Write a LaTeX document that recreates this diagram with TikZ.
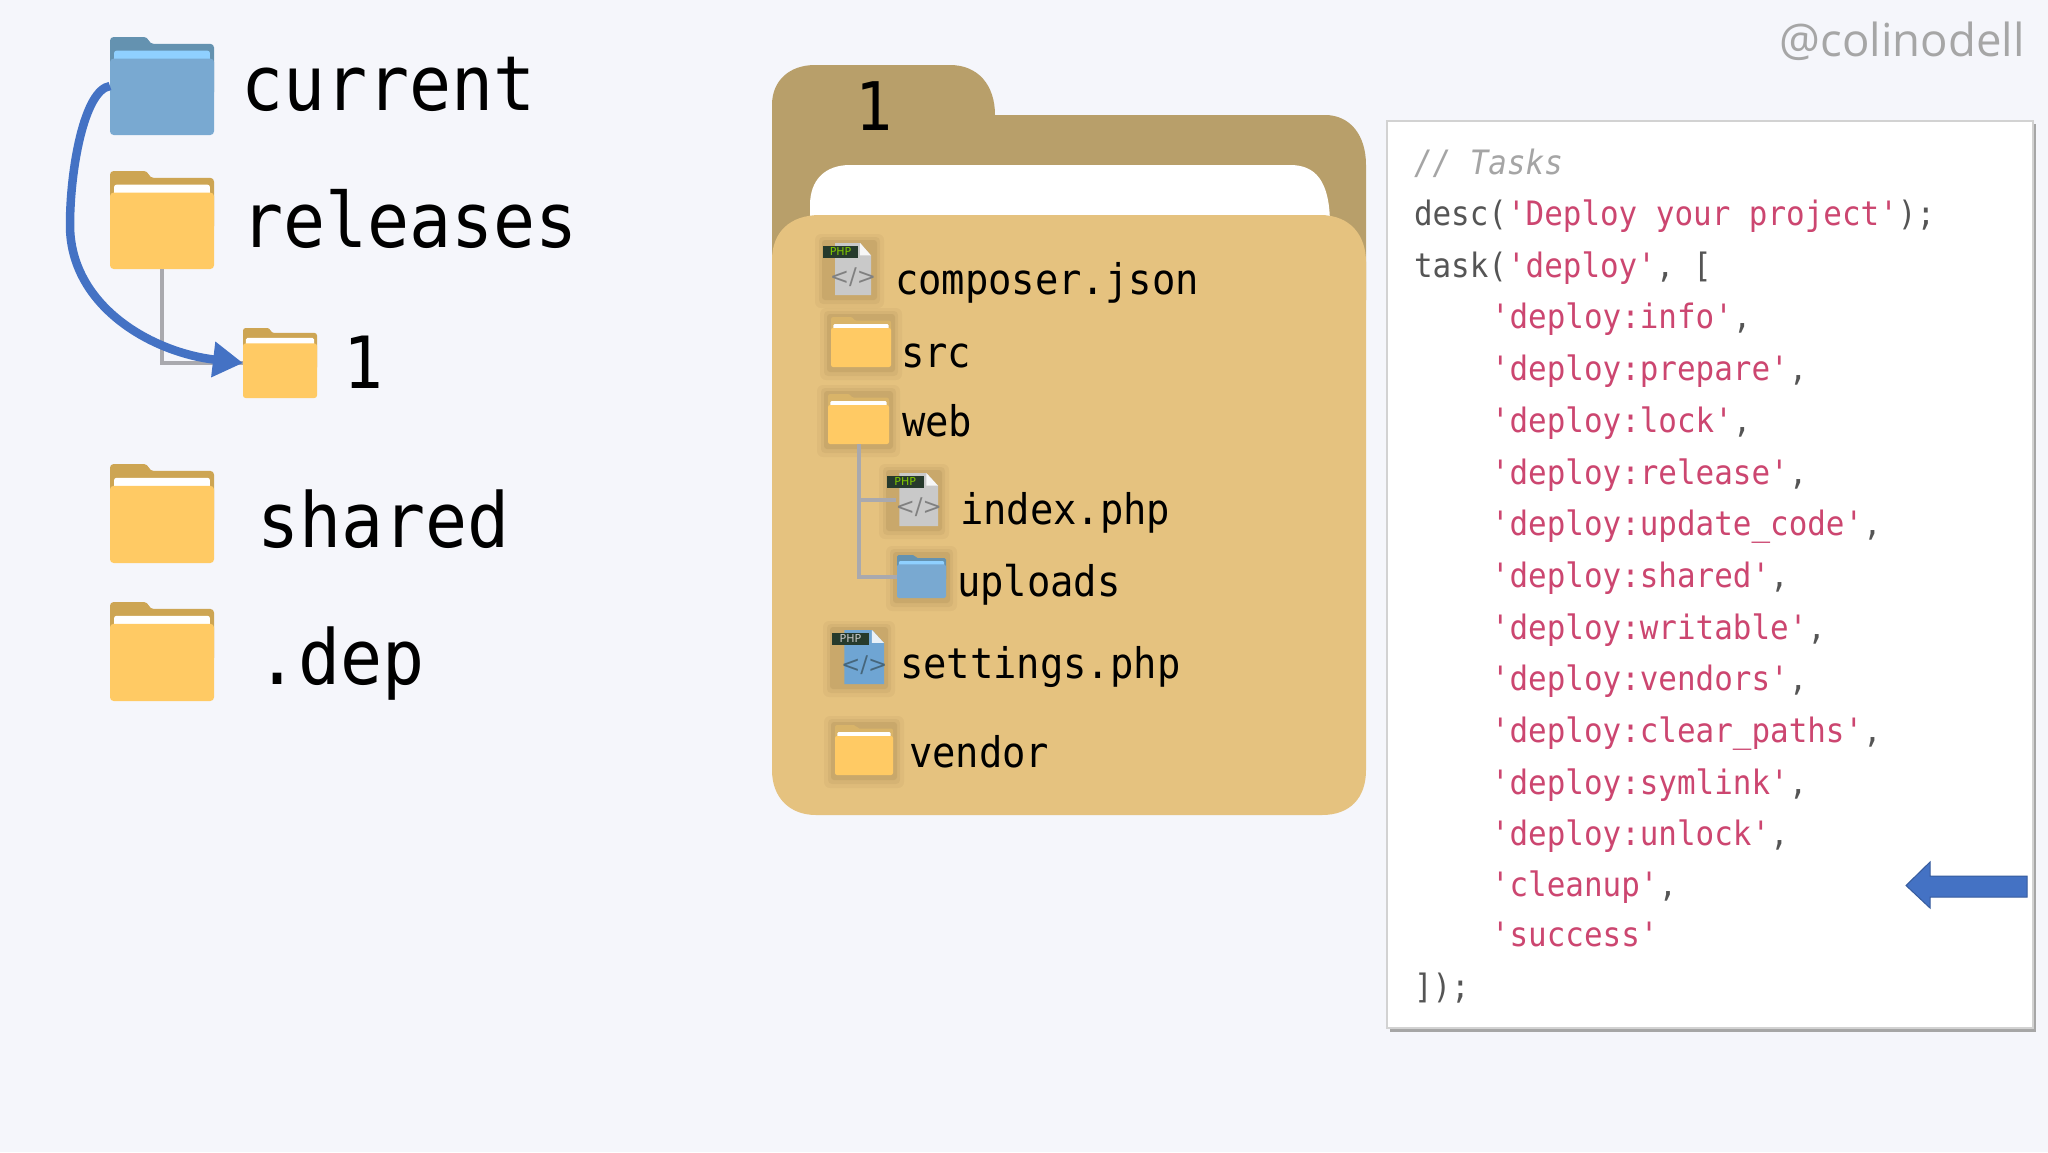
\documentclass[tikz,border=0pt]{standalone}
\usepackage{fontspec}
\newfontfamily\monof[FakeStretch=0.92]{DejaVu Sans Mono}
\newfontfamily\iconf{DejaVu Sans}
\newfontfamily\handlef{Open Sans}
\usetikzlibrary{arrows.meta}
\definecolor{bgc}{HTML}{F5F6FB}
\definecolor{ybody}{HTML}{FFCA64}
\definecolor{ytab}{HTML}{CDA553}
\definecolor{bbody}{HTML}{79A9D1}
\definecolor{btab}{HTML}{6492B0}
\definecolor{bsheet}{HTML}{8FD0FF}
\definecolor{bigback}{HTML}{B89F6A}
\definecolor{bigfront}{HTML}{E5C27F}
\definecolor{halo}{HTML}{8F7240}
\definecolor{treeg}{HTML}{A9A9AE}
\definecolor{arrowb}{HTML}{4472C4}
\definecolor{codeg}{HTML}{555555}
\definecolor{codep}{HTML}{CC4670}
\definecolor{commg}{HTML}{A5A5A5}
\definecolor{fileg}{HTML}{C9C9C9}
\definecolor{filed}{HTML}{263A2C}
\definecolor{fileb}{HTML}{6FA5D3}
\definecolor{phpg}{HTML}{80C800}
\tikzset{
  x=1pt,y=-1pt,
  lbl/.style={anchor=base west,inner sep=0pt,outer sep=0pt,font=\monof\fontsize{76}{80}\selectfont,text=black},
  sublbl/.style={anchor=base west,inner sep=0pt,outer sep=0pt,font=\monof\fontsize{42.2}{46}\selectfont,text=black},
  codeline/.style={anchor=base west,inner sep=0pt,outer sep=0pt,font=\monof\fontsize{33.6}{40}\selectfont,text=codeg},
  tree/.style={draw=treeg,line width=4pt},
}
% \folderpic{name}{left}{top}{width}{height}{tab}{sheet}{front}
\newcommand{\folderpic}[8]{%
  \pgfmathsetmacro{\fr}{#4*0.035}%
  \node[inner sep=0pt,outer sep=0pt,minimum width=#4pt,minimum height=#5pt] (#1) at ({#2+#4/2},{#3+#5/2}) {};
  \begin{scope}[shift={(#2,#3)},x=#4pt,y=-#5pt]
    \fill[#6,rounded corners=\fr pt] (0,.6) -- (0,0) -- (.36,0) -- (.385,.07) -- (1,.07) -- (1,.6) -- cycle;
    \fill[#7,rounded corners=.6*\fr pt] (.04,.5) -- (.04,.14) -- (.96,.14) -- (.96,.5) -- cycle;
    \fill[#8,rounded corners=\fr pt] (0,1) -- (0,.22) -- (1,.22) -- (1,1) -- cycle;
  \end{scope}}
% \filepic{name}{left}{top}{width}{height}{body}{labeltext}{codetext}
\newcommand{\filepic}[8]{%
  \node[inner sep=0pt,outer sep=0pt,minimum width=#4pt,minimum height=#5pt] (#1) at ({#2+#4/2},{#3+#5/2}) {};
  \begin{scope}[shift={(#2,#3)},x=#4pt,y=-#5pt]
    \fill[#6] (.08,0) -- (.72,0) -- (1,.24) -- (1,1) -- (.08,1) -- cycle;
    \fill[white!85!#6] (.72,0) -- (1,.24) -- (.72,.24) -- cycle;
    \fill[filed] (-.22,.05) rectangle (.66,.28);
    \node[inner sep=0pt,text=#7,font=\iconf\fontsize{11}{12}\selectfont] (#1-tag) at (.22,.165) {PHP};
    \node[inner sep=0pt,text=#8,font=\iconf\fontsize{23}{25}\selectfont] (#1-code) at (.54,.65) {</>};
  \end{scope}}
% soft shadow behind a small icon
\newcommand{\halopic}[4]{%
  \fill[halo,opacity=.08,rounded corners=6pt] ({#1-11},{#2-9}) rectangle ({#3+11},{#4+13});
  \fill[halo,opacity=.10,rounded corners=4pt] ({#1-7},{#2-6}) rectangle ({#3+7},{#4+9});
  \fill[halo,opacity=.16,rounded corners=3pt] ({#1-4},{#2-3}) rectangle ({#3+4},{#4+5});}
\begin{document}
\begin{tikzpicture}
\useasboundingbox (0,0) rectangle (2048,1152);
\fill[bgc] (0,0) rectangle (2048,1152);

% left tree
\folderpic{current}{110}{37}{104}{98}{btab}{bsheet}{bbody}
\folderpic{releases}{110}{171}{104}{98}{ytab}{white}{ybody}
\folderpic{one}{243}{328}{74}{70}{ytab}{white}{ybody}
\folderpic{shared}{110}{464}{104}{99}{ytab}{white}{ybody}
\folderpic{dep}{110}{602}{104}{99}{ytab}{white}{ybody}
\draw[tree] (releases.south) |- (one.west);
\draw[arrowb,line width=8.5pt,-{Triangle[length=30pt,width=34pt]}]
  (current.west) .. controls (84,90) and (70,170) .. (70,225)
  .. controls (70,305) and (150,352) .. (one.west);
\node[lbl] (t-current) at (241,110) {current};
\node[lbl] (t-releases) at (241,247) {releases};
\node[lbl] (t-one) at (343,388) {\fontsize{72}{76}\selectfont 1};
\node[lbl] (t-shared) at (257,547) {shared};
\node[lbl] (t-dep) at (256,684) {.dep};

% big folder
\fill[bigback] (772,190) -- (772,105) .. controls (772,80) and (790,65) .. (815,65)
  -- (950,65) .. controls (978,65) and (995,85) .. (995,115) -- (1325,115)
  .. controls (1350,115) and (1366,135) .. (1366,165) -- (1366,300) -- (772,300) -- cycle;
\fill[white] (810,225) -- (810,205) .. controls (810,180) and (825,165) .. (850,165)
  -- (1290,165) .. controls (1315,165) and (1330,180) .. (1330,225) -- cycle;
\fill[bigfront] (772,775) -- (772,260) .. controls (772,232) and (790,215) .. (820,215)
  -- (1320,215) .. controls (1350,215) and (1366,235) .. (1366,262) -- (1366,770)
  .. controls (1366,798) and (1350,815) .. (1322,815) -- (816,815)
  .. controls (790,815) and (772,798) .. (772,770) -- cycle;
\node[lbl] (t-bigone) at (855,130) {\fontsize{67}{70}\selectfont 1};

% halos
\halopic{826}{243}{873}{295}
\halopic{831}{317}{891}{367}
\halopic{828}{394}{889}{444}
\halopic{890}{473}{938}{526}
\halopic{897}{555}{946}{598}
\halopic{834}{630}{884}{684}
\halopic{835}{725}{893}{775}

% icons
\filepic{composer}{832}{243}{39}{52}{fileg}{phpg}{gray}
\folderpic{src}{831}{317}{60}{50}{ytab!50!bigfront}{white}{ybody}
\folderpic{web}{828}{394}{61}{50}{ytab!50!bigfront}{white}{ybody}
\filepic{index}{896}{473}{42}{53}{fileg}{phpg}{gray}
\folderpic{uploads}{897}{555}{49}{43}{btab}{bsheet}{bbody}
\filepic{settings}{841}{630}{43}{54}{fileb}{fileg}{btab!70!black}
\folderpic{vendor}{835}{725}{58}{50}{ytab!50!bigfront}{white}{ybody}
\draw[tree] (web.south) |- (index.west);
\draw[tree] (web.south) |- (uploads.west);

\node[sublbl] (t-composer) at (895,294) {composer.json};
\node[sublbl] (t-src) at (901,367) {src};
\node[sublbl] (t-web) at (902,436) {web};
\node[sublbl] (t-index) at (960,524) {index.php};
\node[sublbl] (t-uploads) at (957,596) {uploads};
\node[sublbl] (t-settings) at (900,678) {settings.php};
\node[sublbl] (t-vendor) at (909,767) {vendor};

% code panel
\fill[gray!70] (1390,124) rectangle (2036,1032);
\fill[white,draw=gray!35,line width=1.5pt] (1387,121) rectangle (2033,1028);
\newcommand{\pk}[1]{\textcolor{codep}{#1}}
\node[codeline,text=commg] (c0) at (1414,174) {\textit{// Tasks}};
\node[codeline] (c1) at (1414,225) {desc(\pk{'Deploy your project'});};
\node[codeline] (c2) at (1414,277) {task(\pk{'deploy'}, [};
\node[codeline] (c3) at (1491,328) {\pk{'deploy:info'},};
\node[codeline] (c4) at (1491,380) {\pk{'deploy:prepare'},};
\node[codeline] (c5) at (1491,432) {\pk{'deploy:lock'},};
\node[codeline] (c6) at (1491,484) {\pk{'deploy:release'},};
\node[codeline] (c7) at (1491,535) {\pk{'deploy:update\_code'},};
\node[codeline] (c8) at (1491,587) {\pk{'deploy:shared'},};
\node[codeline] (c9) at (1491,639) {\pk{'deploy:writable'},};
\node[codeline] (c10) at (1491,690) {\pk{'deploy:vendors'},};
\node[codeline] (c11) at (1491,742) {\pk{'deploy:clear\_paths'},};
\node[codeline] (c12) at (1491,794) {\pk{'deploy:symlink'},};
\node[codeline] (c13) at (1491,845) {\pk{'deploy:unlock'},};
\node[codeline] (c14) at (1491,896) {\pk{'cleanup'},};
\node[codeline] (c15) at (1491,946) {\pk{'success'}};
\node[codeline] (c16) at (1414,998) {]);};

% callout arrow
\fill[arrowb,draw=arrowb!80!black,line width=1pt] (2027,876) -- (1930,876) -- (1930,862) -- (1906,885.5)
  -- (1930,908) -- (1930,897) -- (2027,897) -- cycle;

\node[anchor=base east,inner sep=0pt,text=gray!70,font=\handlef\fontsize{45.5}{48}\selectfont] (handle) at (2025,56) {@colinodell};
\end{tikzpicture}
\end{document}
